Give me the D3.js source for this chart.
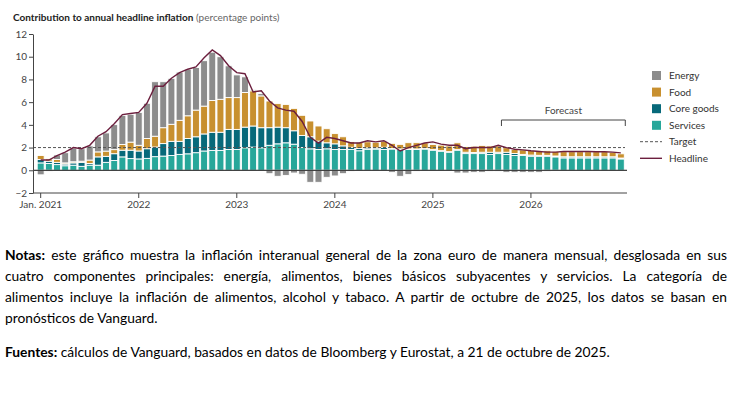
<!DOCTYPE html>
<html>
<head>
<meta charset="utf-8">
<title>Euro area inflation contributions</title>
<style>
  body { margin: 0; background: #fff; }
  #chart { position: absolute; left: 0; top: 0; }
  .note {
    position: absolute; left: 5px; width: 722px;
    font-family: Lato, sans-serif; font-size: 13.8px; line-height: 21px; color: #000;
  }
  .note.just { text-align: justify; text-align-last: justify; }
  .axis text { font-family: Lato, sans-serif; font-size: 10px; fill: #444; }
  .axis path, .axis line { stroke: #444; }
</style>
</head>
<body>
<div id="chart"></div>

<div class="note just" style="top:244px"><b>Notas:</b> este gráfico muestra la inflación interanual general de la zona euro de manera mensual, desglosada en sus</div>
<div class="note just" style="top:265px">cuatro componentes principales: energía, alimentos, bienes básicos subyacentes y servicios. La categoría de</div>
<div class="note just" style="top:286px">alimentos incluye la inflación de alimentos, alcohol y tabaco. A partir de octubre de 2025, los datos se basan en</div>
<div class="note" style="top:307px">pronósticos de Vanguard.</div>
<div class="note" style="top:341px"><b>Fuentes:</b> cálculos de Vanguard, basados en datos de Bloomberg y Eurostat, a 21 de octubre de 2025.</div>

<script src="https://cdnjs.cloudflare.com/ajax/libs/d3/7.8.5/d3.min.js"></script>
<script>
    // monthly categories, Jan 2021 .. Dec 2026
    var fmt = d3.timeFormat('%Y-%m');
    var months = d3.timeMonths(new Date(2021, 0, 1), new Date(2027, 0, 1)).map(fmt);
    var forecastStart = '2025-10';

    // contributions in percentage points
    var services = [
        0.65, 0.6, 0.5, 0.4, 0.45, 0.35, 0.45, 0.45, 0.7, 0.86, 1.18, 1.03,
        1.0, 1.05, 1.2, 1.25, 1.3, 1.4, 1.45, 1.55, 1.7, 1.75, 1.75, 1.83,
        1.83, 1.98, 2.04, 1.98, 2.2, 2.33, 2.42, 2.3, 2.0, 1.89, 1.83, 1.89,
        1.83, 1.83, 1.83, 1.72, 1.85, 1.87, 1.83, 1.87, 1.83, 1.83, 1.83, 1.87,
        1.77, 1.68, 1.59, 1.77, 1.47, 1.47, 1.47, 1.39, 1.47, 1.39, 1.3, 1.3,
        1.24, 1.24, 1.24, 1.18, 1.09, 1.09, 1.09, 1.09, 1.09, 1.09, 1.09, 1.0
    ];
    var coreGoods = [
        0.3, 0.2, 0.2, 0.15, 0.2, 0.35, 0.15, 0.73, 0.53, 0.6, 0.59, 0.74,
        0.7, 0.85, 0.85, 1.1, 1.25, 1.15, 1.35, 1.4, 1.5, 1.6, 1.6, 1.77,
        1.77, 1.82, 1.86, 1.77, 1.55, 1.47, 1.33, 1.18, 1.07, 1.06, 0.74, 0.53,
        0.5, 0.32, 0.2, 0.2, 0.12, 0.1, 0.2, 0.05, 0.05, 0.05, 0.05, 0.05,
        0.05, 0.05, 0.05, 0.05, 0.12, 0.1, 0.12, 0.2, 0.12, 0.2, 0.18, 0.1,
        0.1, 0.08, 0.08, 0.08, 0.1, 0.1, 0.1, 0.1, 0.1, 0.1, 0.1, 0.08
    ];
    var food = [
        0.35, 0.2, 0.25, 0.1, 0.1, 0.1, 0.3, 0.44, 0.46, 0.36, 0.5, 0.71,
        0.5, 0.9, 0.95, 1.4, 1.5, 1.85, 2.0, 2.35, 2.45, 2.8, 2.9, 2.8,
        2.8, 3.05, 3.1, 2.8, 2.35, 2.07, 2.05, 1.97, 1.77, 1.39, 1.33, 1.24,
        0.9, 0.8, 0.5, 0.55, 0.55, 0.5, 0.52, 0.45, 0.4, 0.55, 0.55, 0.5,
        0.45, 0.5, 0.5, 0.6, 0.5, 0.55, 0.6, 0.55, 0.55, 0.4, 0.35, 0.4,
        0.4, 0.4, 0.4, 0.4, 0.45, 0.45, 0.45, 0.45, 0.45, 0.45, 0.4, 0.37
    ];
    var energy = [
        -0.4, -0.1, 0.4, 0.9, 1.2, 1.1, 1.25, 1.33, 1.6, 2.2, 2.57, 2.45,
        2.9, 3.1, 4.8, 4.05, 4.05, 4.25, 4.1, 3.75, 4.0, 4.25, 3.75, 2.8,
        2.0, 1.38, 0.1, 0.2, -0.3, -0.53, -0.45, -0.24, -0.35, -1.06, -1.06, -0.62,
        -0.5, -0.3, -0.1, 0, 0.05, 0, 0.05, -0.18, -0.53, -0.38, -0.1, 0,
        0.1, 0.05, 0, -0.24, -0.24, -0.18, -0.18, -0.09, -0.09, -0.18, -0.18, -0.18,
        -0.18, -0.18, -0.09, -0.06, 0, 0, 0, 0, 0, 0, 0, 0
    ];
    var headline = [
        0.9, 0.9, 1.3, 1.6, 2.0, 1.9, 2.2, 3.0, 3.4, 4.1, 4.9, 5.0,
        5.1, 5.9, 7.4, 7.4, 8.1, 8.6, 8.9, 9.1, 9.9, 10.6, 10.1, 9.2,
        8.6, 8.5, 6.9, 7.0, 6.1, 5.5, 5.3, 5.2, 4.3, 2.9, 2.4, 2.9,
        2.8, 2.6, 2.4, 2.4, 2.6, 2.5, 2.6, 2.2, 1.7, 2.0, 2.2, 2.4,
        2.5, 2.3, 2.2, 2.2, 1.9, 2.0, 2.0, 2.0, 2.2, 2.0, 1.85, 1.8,
        1.72, 1.66, 1.6, 1.6, 1.65, 1.65, 1.65, 1.65, 1.63, 1.63, 1.6, 1.53
    ];
    var target = 2;

    var yTicks = [-2, 0, 2, 4, 6, 8, 10, 12];
    var yearTicks = ['2021-01', '2022-01', '2023-01', '2024-01', '2025-01', '2026-01'];
    var yearLabels = ['Jan. 2021', '2022', '2023', '2024', '2025', '2026'];

    var keys = ['services', 'coreGoods', 'food', 'energy'];
    var colors = {energy: '#8c8c8c', food: '#c8902f', coreGoods: '#07697a', services: '#27a79a'};
    var legendItems = [
        {key: 'energy', label: 'Energy'},
        {key: 'food', label: 'Food'},
        {key: 'coreGoods', label: 'Core goods'},
        {key: 'services', label: 'Services'}
    ];

    var table = months.map(function (m, i) {
        return {month: m, services: services[i], coreGoods: coreGoods[i], food: food[i], energy: energy[i], headline: headline[i]};
    });

    var width = 732, height = 232;
    var svg = d3.select('#chart').append('svg')
            .attr('width', width)
            .attr('height', height)
            .style('font-family', 'Lato, sans-serif');

    var axisLeftX = 33, plotRight = 627;
    var x = d3.scaleBand()
            .domain(months)
            .range([36.6, 624.9])
            .paddingInner(0.15)
            .paddingOuter(0.075);
    var y = d3.scaleLinear().domain([-2, 12]).range([193, 34]);
    var cx = function (m) { return x(m) + x.bandwidth() / 2; };

    // title
    var title = svg.append('text').attr('x', 13).attr('y', 21).attr('font-size', 10);
    title.append('tspan').attr('font-weight', 700).attr('fill', '#222').text('Contribution to annual headline inflation');
    title.append('tspan').attr('fill', '#666').text(' (percentage points)');

    // stacked bars
    var series = d3.stack().keys(keys).offset(d3.stackOffsetDiverging)(table);
    svg.append('g').selectAll('g')
            .data(series)
            .enter().append('g')
            .attr('fill', function (s) { return colors[s.key]; })
            .selectAll('rect')
            .data(function (s) { return s; })
            .enter().append('rect')
            .attr('x', function (d) { return x(d.data.month); })
            .attr('width', x.bandwidth())
            .attr('y', function (d) { return y(Math.max(d[0], d[1])); })
            .attr('height', function (d) { return Math.abs(y(d[0]) - y(d[1])); })
            .attr('stroke', '#fff')
            .attr('stroke-width', 0.9);

    // zero line + target
    svg.append('line')
            .attr('x1', axisLeftX).attr('x2', plotRight)
            .attr('y1', y(0)).attr('y2', y(0))
            .attr('stroke', '#111').attr('stroke-width', 1);
    svg.append('line')
            .attr('x1', axisLeftX).attr('x2', plotRight - 2)
            .attr('y1', y(target)).attr('y2', y(target))
            .attr('stroke', '#555').attr('stroke-width', 1)
            .attr('stroke-dasharray', '3,2');

    // headline line
    svg.append('path')
            .datum(table)
            .attr('fill', 'none')
            .attr('stroke', '#6c1f3e')
            .attr('stroke-width', 1.4)
            .attr('d', d3.line()
                    .x(function (d) { return cx(d.month); })
                    .y(function (d) { return y(d.headline); }));

    // axes
    svg.append('g')
            .attr('class', 'axis')
            .attr('transform', 'translate(' + axisLeftX + ',0)')
            .call(d3.axisLeft(y).tickValues(yTicks).tickSize(4).tickSizeOuter(0).tickPadding(2));

    var xAxis = svg.append('g')
            .attr('class', 'axis')
            .attr('transform', 'translate(0,' + y(-2) + ')')
            .call(d3.axisBottom(x).tickValues(yearTicks).tickSize(5).tickPadding(3)
                    .tickFormat(function (d, i) { return yearLabels[i]; }));
    xAxis.select('.domain').remove();
    xAxis.append('line')
            .attr('x1', axisLeftX).attr('x2', plotRight)
            .attr('stroke', '#444');

    // forecast bracket
    var fx1 = x(forecastStart) - 1.5;
    var fx2 = x(months[months.length - 1]) + x.bandwidth() + 1;
    svg.append('path')
            .attr('fill', 'none')
            .attr('stroke', '#444')
            .attr('d', 'M' + fx1 + ',126 V120 H' + fx2 + ' V126');
    svg.append('text')
            .attr('x', (fx1 + fx2) / 2).attr('y', 114)
            .attr('text-anchor', 'middle')
            .attr('font-size', 10).attr('fill', '#444')
            .text('Forecast');

    // legend
    var legend = svg.append('g').attr('font-size', 10).attr('fill', '#333');
    legendItems.forEach(function (item, i) {
        var ly = 71 + i * 16.6;
        legend.append('rect')
                .attr('x', 652).attr('y', ly)
                .attr('width', 9).attr('height', 9)
                .attr('fill', colors[item.key]);
        legend.append('text').attr('x', 669).attr('y', ly + 8).text(item.label);
    });
    legend.append('line')
            .attr('x1', 640).attr('x2', 662).attr('y1', 141.7).attr('y2', 141.7)
            .attr('stroke', '#555').attr('stroke-dasharray', '3,2');
    legend.append('text').attr('x', 669).attr('y', 145).text('Target');
    legend.append('line')
            .attr('x1', 640).attr('x2', 662).attr('y1', 158.3).attr('y2', 158.3)
            .attr('stroke', '#6c1f3e').attr('stroke-width', 1.4);
    legend.append('text').attr('x', 669).attr('y', 161.5).text('Headline');
</script>
</body>
</html>
